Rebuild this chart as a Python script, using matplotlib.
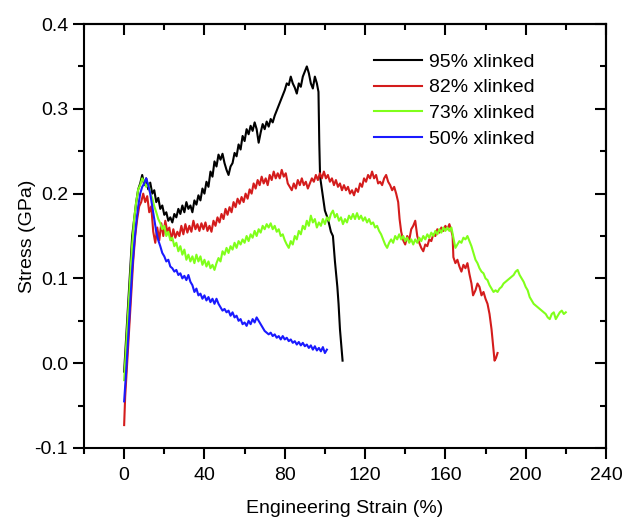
import numpy as np
import matplotlib.pyplot as plt
from matplotlib.ticker import MultipleLocator

plt.rcParams['font.family'] = ['Liberation Sans', 'DejaVu Sans']
plt.rcParams['axes.unicode_minus'] = False

# (strain %, stress GPa)
xl95 = [(0, -0.01), (1, 0.03), (2, 0.07), (3, 0.11), (4, 0.15), (5, 0.17), (6, 0.19), (7, 0.205),
        (8, 0.212), (9, 0.222), (10, 0.21), (11, 0.218), (12, 0.205), (13, 0.213), (14, 0.2),
        (15, 0.204), (16, 0.19), (17, 0.195), (18, 0.182), (19, 0.186), (20, 0.175), (21, 0.178),
        (22, 0.168), (23, 0.172), (24, 0.166), (25, 0.176), (26, 0.172), (27, 0.182), (28, 0.176),
        (29, 0.186), (30, 0.178), (31, 0.19), (32, 0.182), (33, 0.186), (34, 0.178), (35, 0.192),
        (36, 0.187), (37, 0.198), (38, 0.192), (39, 0.206), (40, 0.2), (41, 0.214), (42, 0.208),
        (43, 0.226), (44, 0.22), (45, 0.238), (46, 0.232), (47, 0.246), (48, 0.24), (49, 0.247),
        (50, 0.236), (51, 0.228), (52, 0.222), (53, 0.232), (54, 0.236), (55, 0.248), (56, 0.244),
        (57, 0.258), (58, 0.252), (59, 0.268), (60, 0.262), (61, 0.276), (62, 0.27), (63, 0.28),
        (64, 0.274), (65, 0.284), (66, 0.276), (67, 0.26), (68, 0.272), (69, 0.282), (70, 0.276),
        (71, 0.285), (72, 0.279), (73, 0.288), (74, 0.284), (75, 0.292), (76, 0.298), (77, 0.304),
        (78, 0.31), (79, 0.316), (80, 0.322), (81, 0.33), (82, 0.328), (83, 0.338), (84, 0.33),
        (85, 0.325), (86, 0.318), (87, 0.33), (88, 0.326), (89, 0.338), (90, 0.344), (91, 0.35),
        (92, 0.342), (93, 0.33), (94, 0.324), (95, 0.338), (96, 0.33), (96.8, 0.32), (97.2, 0.26),
        (97.6, 0.22), (98.5, 0.205), (100, 0.18), (101.5, 0.17), (103, 0.155), (104, 0.15),
        (105, 0.12), (106.2, 0.09), (106.8, 0.07), (107.5, 0.04), (108.2, 0.02), (108.8, 0.003)]

xl82 = [(0, -0.073), (0.5, -0.04), (1.5, 0.0), (2.5, 0.04), (3.5, 0.08), (4.5, 0.12), (5.5, 0.15),
        (6.5, 0.17), (7.5, 0.185), (8.5, 0.19), (9.5, 0.2), (10.5, 0.19), (11.5, 0.197),
        (12.5, 0.178), (13.5, 0.185), (14.5, 0.155), (15.5, 0.142), (16.5, 0.16), (17.5, 0.145),
        (18.5, 0.165), (19.5, 0.15), (20.5, 0.168), (21.5, 0.155), (22.5, 0.16), (23.5, 0.145),
        (24.5, 0.158), (25.5, 0.148), (26.5, 0.155), (27.5, 0.15), (28.5, 0.162), (29.5, 0.152),
        (30.5, 0.164), (31.5, 0.154), (32.5, 0.162), (33.5, 0.155), (34.5, 0.168), (35.5, 0.158),
        (36.5, 0.164), (37.5, 0.156), (38.5, 0.165), (39.5, 0.158), (40.5, 0.166), (41.5, 0.156),
        (42.5, 0.162), (43.5, 0.155), (44.5, 0.168), (45.5, 0.162), (46.5, 0.172), (47.5, 0.166),
        (48.5, 0.176), (49.5, 0.17), (50.5, 0.182), (51.5, 0.175), (52.5, 0.184), (53.5, 0.178),
        (54.5, 0.19), (55.5, 0.184), (56.5, 0.194), (57.5, 0.188), (58.5, 0.196), (59.5, 0.19),
        (60.5, 0.2), (61.5, 0.194), (62.5, 0.205), (63.5, 0.2), (64.5, 0.212), (65.5, 0.206),
        (66.5, 0.216), (67.5, 0.21), (68.5, 0.22), (69.5, 0.212), (70.5, 0.218), (71.5, 0.21),
        (72.5, 0.222), (73.5, 0.216), (74.5, 0.226), (75.5, 0.218), (76.5, 0.224), (77.5, 0.218),
        (78.5, 0.228), (79.5, 0.22), (80.5, 0.224), (81.5, 0.212), (82.5, 0.208), (83.5, 0.204),
        (84.5, 0.212), (85.5, 0.206), (86.5, 0.216), (87.5, 0.21), (88.5, 0.218), (89.5, 0.21),
        (90.5, 0.214), (91.5, 0.206), (92.5, 0.212), (93.5, 0.218), (94.5, 0.214), (95.5, 0.222),
        (96.5, 0.216), (97.5, 0.224), (98.5, 0.218), (99.5, 0.226), (100.5, 0.218), (101.5, 0.222),
        (102.5, 0.214), (103.5, 0.218), (104.5, 0.21), (105.5, 0.216), (106.5, 0.208),
        (107.5, 0.212), (108.5, 0.204), (109.5, 0.21), (110.5, 0.204), (111.5, 0.208),
        (112.5, 0.2), (113.5, 0.204), (114.5, 0.198), (115.5, 0.206), (116.5, 0.202),
        (117.5, 0.212), (118.5, 0.208), (119.5, 0.218), (120.5, 0.214), (121.5, 0.222),
        (122.5, 0.218), (123.5, 0.226), (124.5, 0.218), (125.5, 0.222), (126.5, 0.212),
        (127.5, 0.214), (128.5, 0.21), (129.5, 0.218), (130.5, 0.222), (131.5, 0.214),
        (132.5, 0.21), (133.5, 0.204), (134.5, 0.208), (135.5, 0.2), (136.5, 0.19), (137.2, 0.17),
        (138, 0.155), (139, 0.145), (140, 0.14), (141, 0.15), (142, 0.145), (143, 0.158),
        (144, 0.162), (145, 0.168), (146, 0.15), (147, 0.142), (148, 0.136), (149, 0.132),
        (150, 0.14), (151, 0.138), (152, 0.146), (153, 0.144), (154, 0.152), (155, 0.15),
        (156, 0.158), (157, 0.154), (158, 0.16), (159, 0.156), (160, 0.162), (161, 0.158),
        (162, 0.164), (163, 0.156), (163.6, 0.15), (164, 0.125), (165, 0.118), (166, 0.122),
        (167, 0.114), (168, 0.108), (169, 0.116), (170, 0.112), (171, 0.118), (172, 0.105),
        (173, 0.094), (173.8, 0.08), (175, 0.086), (176, 0.094), (177, 0.09), (178, 0.08),
        (179, 0.084), (180, 0.076), (181, 0.07), (182, 0.058), (183, 0.04), (183.8, 0.02),
        (184.5, 0.003), (185.2, 0.006), (186, 0.012)]

xl73 = [(0, -0.02), (1, 0.02), (2, 0.06), (3, 0.1), (4, 0.14), (5, 0.17), (6, 0.19), (7, 0.205),
        (8, 0.21), (9, 0.218), (10, 0.214), (11, 0.208), (12, 0.212), (13, 0.2), (14, 0.195),
        (15, 0.185), (16, 0.178), (17, 0.17), (18, 0.165), (19, 0.158), (20, 0.162), (21, 0.15),
        (22, 0.155), (23, 0.145), (24, 0.148), (25, 0.138), (26, 0.142), (27, 0.132), (28, 0.138),
        (29, 0.128), (30, 0.134), (31, 0.122), (32, 0.128), (33, 0.12), (34, 0.126), (35, 0.118),
        (36, 0.128), (37, 0.12), (38, 0.126), (39, 0.116), (40, 0.122), (41, 0.114), (42, 0.12),
        (43, 0.112), (44, 0.116), (45, 0.11), (46, 0.118), (47, 0.124), (48, 0.12), (49, 0.132),
        (50, 0.128), (51, 0.136), (52, 0.13), (53, 0.138), (54, 0.134), (55, 0.142), (56, 0.136),
        (57, 0.144), (58, 0.14), (59, 0.146), (60, 0.142), (61, 0.15), (62, 0.144), (63, 0.152),
        (64, 0.148), (65, 0.156), (66, 0.15), (67, 0.158), (68, 0.154), (69, 0.162), (70, 0.158),
        (71, 0.164), (72, 0.16), (73, 0.165), (74, 0.158), (75, 0.162), (76, 0.155), (77, 0.158),
        (78, 0.15), (79, 0.152), (80, 0.145), (81, 0.14), (82, 0.136), (83, 0.144), (84, 0.14),
        (85, 0.15), (86, 0.146), (87, 0.156), (88, 0.152), (89, 0.162), (90, 0.158), (91, 0.168),
        (92, 0.162), (93, 0.174), (94, 0.166), (95, 0.17), (96, 0.16), (97, 0.166), (98, 0.162),
        (99, 0.17), (100, 0.164), (101, 0.172), (102, 0.168), (103, 0.176), (104, 0.18),
        (105, 0.172), (106, 0.176), (107, 0.168), (108, 0.172), (109, 0.164), (110, 0.17),
        (111, 0.166), (112, 0.174), (113, 0.17), (114, 0.176), (115, 0.17), (116, 0.177),
        (117, 0.17), (118, 0.174), (119, 0.168), (120, 0.172), (121, 0.166), (122, 0.17),
        (123, 0.164), (124, 0.166), (125, 0.16), (126, 0.162), (127, 0.156), (128, 0.152),
        (129, 0.146), (130, 0.14), (131, 0.136), (132, 0.142), (133, 0.146), (134, 0.142),
        (135, 0.15), (136, 0.146), (137, 0.152), (138, 0.146), (139, 0.15), (140, 0.144),
        (141, 0.148), (142, 0.142), (143, 0.146), (144, 0.14), (145, 0.146), (146, 0.142),
        (147, 0.148), (148, 0.144), (149, 0.15), (150, 0.146), (151, 0.152), (152, 0.148),
        (153, 0.154), (154, 0.15), (155, 0.156), (156, 0.152), (157, 0.158), (158, 0.154),
        (159, 0.16), (160, 0.156), (161, 0.16), (162, 0.156), (163, 0.16), (164, 0.148),
        (165, 0.136), (166, 0.14), (167, 0.144), (168, 0.142), (169, 0.148), (170, 0.146),
        (171, 0.15), (172, 0.144), (173, 0.138), (174, 0.13), (175, 0.122), (176, 0.118),
        (177, 0.112), (178, 0.108), (179, 0.106), (180, 0.1), (181, 0.098), (182, 0.092),
        (183, 0.088), (184, 0.084), (185, 0.086), (186, 0.084), (187, 0.088), (188, 0.09),
        (189, 0.094), (190, 0.096), (191, 0.098), (192, 0.1), (193, 0.102), (194, 0.104),
        (195, 0.108), (196, 0.11), (197, 0.104), (198, 0.1), (199, 0.096), (200, 0.09),
        (201, 0.086), (202, 0.078), (203, 0.074), (204, 0.07), (205, 0.068), (206, 0.066),
        (207, 0.064), (208, 0.062), (209, 0.06), (210, 0.058), (211, 0.054), (212, 0.052),
        (213, 0.058), (214, 0.06), (215, 0.052), (216, 0.056), (217, 0.06), (218, 0.062),
        (219, 0.058), (220, 0.06)]

xl50 = [(0, -0.045), (1, -0.01), (2, 0.03), (3, 0.07), (4, 0.11), (5, 0.14), (6, 0.165),
        (7, 0.185), (8, 0.2), (9, 0.208), (10, 0.212), (11, 0.218), (12, 0.21), (13, 0.2),
        (14, 0.185), (15, 0.17), (16, 0.155), (17, 0.145), (18, 0.138), (19, 0.13), (20, 0.126),
        (21, 0.12), (22, 0.122), (23, 0.114), (24, 0.112), (25, 0.108), (26, 0.11), (27, 0.104),
        (28, 0.106), (29, 0.1), (30, 0.103), (31, 0.098), (32, 0.104), (33, 0.096), (34, 0.092),
        (35, 0.084), (36, 0.088), (37, 0.08), (38, 0.082), (39, 0.076), (40, 0.08), (41, 0.074),
        (42, 0.078), (43, 0.072), (44, 0.076), (45, 0.07), (46, 0.076), (47, 0.07), (48, 0.066),
        (49, 0.062), (50, 0.064), (51, 0.06), (52, 0.062), (53, 0.056), (54, 0.06), (55, 0.054),
        (56, 0.056), (57, 0.05), (58, 0.052), (59, 0.046), (60, 0.048), (61, 0.044), (62, 0.05),
        (63, 0.046), (64, 0.052), (65, 0.048), (66, 0.054), (67, 0.05), (68, 0.046), (69, 0.042),
        (70, 0.038), (71, 0.036), (72, 0.034), (73, 0.036), (74, 0.032), (75, 0.034), (76, 0.03),
        (77, 0.032), (78, 0.028), (79, 0.032), (80, 0.028), (81, 0.03), (82, 0.026), (83, 0.028),
        (84, 0.024), (85, 0.026), (86, 0.022), (87, 0.025), (88, 0.021), (89, 0.024), (90, 0.02),
        (91, 0.022), (92, 0.018), (93, 0.021), (94, 0.016), (95, 0.02), (96, 0.015), (97, 0.018),
        (98, 0.014), (99, 0.019), (100, 0.012), (101, 0.016)]

labels = ['95% xlinked', '82% xlinked', '73% xlinked', '50% xlinked']
colors = ['black', '#d41c1c', '#80ff1a', '#1a1aff']

fig = plt.figure(figsize=(6.24, 5.17), dpi=100)
ax = fig.add_axes([0.1346, 0.1335, 0.8365, 0.82])

for data, lab, c in zip([xl95, xl82, xl73, xl50], labels, colors):
    d = np.array(data)
    ax.plot(d[:, 0], d[:, 1], color=c, lw=1.5, label=lab)

ax.set_xlim(-20, 240)
ax.set_ylim(-0.1, 0.4)
ax.xaxis.set_major_locator(MultipleLocator(40))
ax.xaxis.set_minor_locator(MultipleLocator(20))
ax.yaxis.set_major_locator(MultipleLocator(0.1))
ax.yaxis.set_minor_locator(MultipleLocator(0.05))
ax.set_xticks([0, 40, 80, 120, 160, 200, 240])
ax.tick_params(which='major', direction='out', length=8, width=1.5, labelsize=14)
ax.tick_params(which='minor', direction='out', length=4, width=1.5)
ax.tick_params(axis='x', pad=6)
for s in ax.spines.values():
    s.set_linewidth(1.5)

# inward ticks on top and right, no labels
top = ax.secondary_xaxis('top')
top.xaxis.set_major_locator(MultipleLocator(40))
top.xaxis.set_minor_locator(MultipleLocator(20))
top.tick_params(which='major', direction='in', length=8, width=1.5, labeltop=False)
top.tick_params(which='minor', direction='in', length=4, width=1.5)
right = ax.secondary_yaxis('right')
right.yaxis.set_major_locator(MultipleLocator(0.1))
right.yaxis.set_minor_locator(MultipleLocator(0.05))
right.tick_params(which='major', direction='in', length=8, width=1.5, labelright=False)
right.tick_params(which='minor', direction='in', length=4, width=1.5)
top.spines['top'].set_linewidth(1.5)
right.spines['right'].set_linewidth(1.5)

ax.set_xlabel('Engineering Strain (%)', fontsize=14, labelpad=11)
ax.set_ylabel('Stress (GPa)', fontsize=14, labelpad=-1)

ax.legend(loc='upper left', bbox_to_anchor=(0.54, 0.95), frameon=False, fontsize=14,
          handlelength=2.5, handletextpad=0.35, labelspacing=0.42, borderaxespad=0)

fig.savefig('out.png', dpi=100)
